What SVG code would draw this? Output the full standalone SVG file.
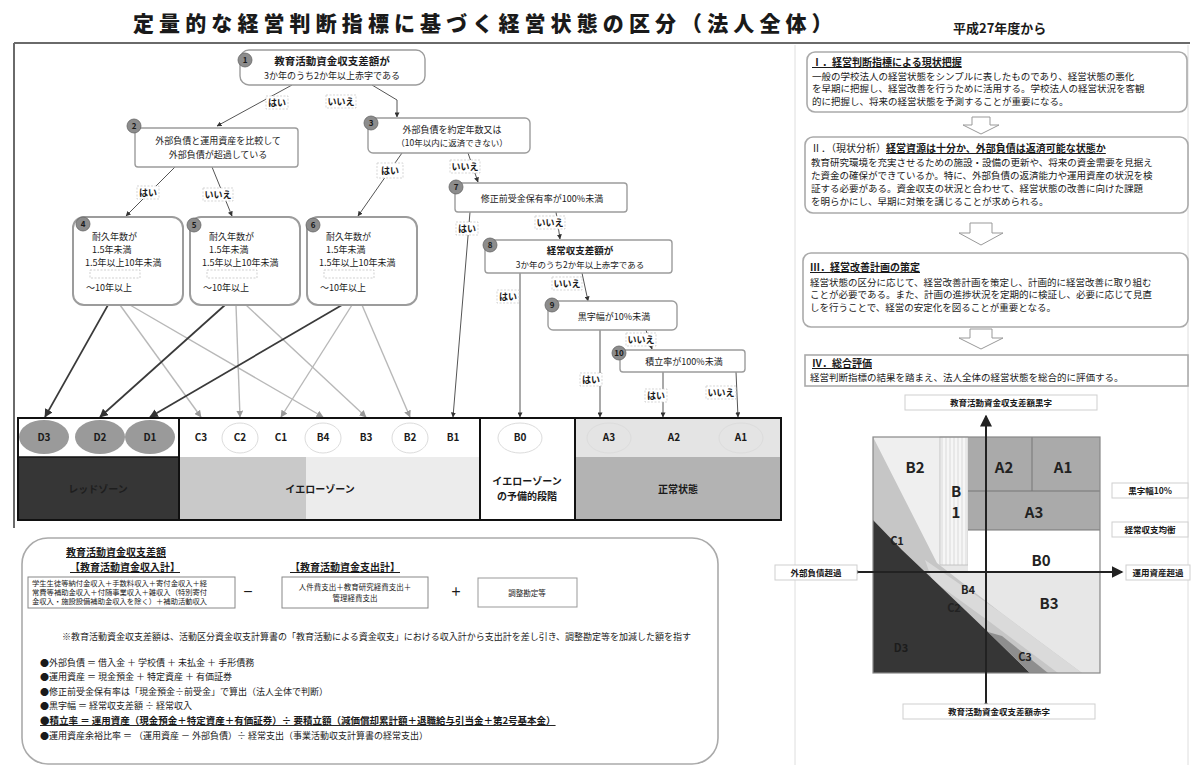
<svg xmlns="http://www.w3.org/2000/svg" width="1192" height="769" viewBox="0 0 1192 769">
<defs>
<style>
text{font-family:"Noto Sans CJK JP","Noto Sans",sans-serif;fill:#1a1a1a}
.b{font-weight:700}
.u{text-decoration:underline}
.box{fill:#fff;stroke:#9c9c9c;stroke-width:1.4}
.rbox{fill:#fff;stroke:#9c9c9c;stroke-width:2}
.pbox{fill:#fff;stroke:#aaa;stroke-width:1.6}
.num{fill:#8c8c8c;stroke:#666;stroke-width:.8}
.numt{font-size:8px;font-weight:700;text-anchor:middle}
.lbl{font-size:9px;font-weight:700;text-anchor:middle}
.lblbg{fill:#fff;stroke:#c4c4c4;stroke-width:.7;stroke-dasharray:2 1.5}
.dk{stroke:#3a3a3a;stroke-width:1.7;fill:none}
.gy{stroke:#b8b8b8;stroke-width:1.4;fill:none}
.ln{stroke:#555;stroke-width:1;fill:none}
.c{text-anchor:middle}
.t9{font-size:9px}
.t95{font-size:9.5px}
.bt{font-size:10px;font-weight:700;text-anchor:middle}
.zone{font-size:10px;font-weight:700;text-anchor:middle}
.faint{fill:none;stroke:#dcdcdc;stroke-width:1}
.chl{font-size:15px;font-weight:700;text-anchor:middle;fill:#222}
.chs{font-size:11px;font-weight:700;text-anchor:middle;fill:#222}
.axl{font-size:8.5px;font-weight:700;text-anchor:middle}
.axb{fill:#fff;stroke:#cfcfcf;stroke-width:1}
.blk{fill:#fff;stroke:#999;stroke-width:1}
</style>
<marker id="ah" viewBox="0 0 6 6" refX="5.5" refY="3" markerWidth="5" markerHeight="5" orient="auto"><path d="M0,0 L6,3 L0,6 z" fill="#333"/></marker>
<marker id="ahg" viewBox="0 0 6 6" refX="5.5" refY="3" markerWidth="5" markerHeight="5" orient="auto"><path d="M0,0 L6,3 L0,6 z" fill="#999"/></marker>
<marker id="axa" viewBox="0 0 8 8" refX="7" refY="4" markerWidth="6" markerHeight="6" orient="auto"><path d="M0,0 L8,4 L0,8 z" fill="#222"/></marker>
<pattern id="vstripe" width="4" height="10" patternUnits="userSpaceOnUse"><rect width="4" height="10" fill="#f6f6f6"/><line x1="2" y1="0" x2="2" y2="10" stroke="#d2d2d2" stroke-width="0.8"/></pattern>
</defs>

<rect width="1192" height="769" fill="#fff"/>

<!-- title -->
<g id="title">
<text x="133" y="31" font-size="21" font-weight="900" letter-spacing="5.1">定量的な経営判断指標に基づく経営状態の区分（法人全体）</text>
<text x="953" y="33" font-size="13" font-weight="700">平成27年度から</text>
</g>

<!-- frame -->
<g id="frame">
<line x1="14" y1="43" x2="1190" y2="43" stroke="#6a6a6a" stroke-width="2"/>
<line x1="14" y1="43" x2="14" y2="528" stroke="#6a6a6a" stroke-width="2"/>
<line x1="795" y1="45" x2="795" y2="765" stroke="#dedede" stroke-width="1"/>
<line x1="1188" y1="45" x2="1188" y2="765" stroke="#dedede" stroke-width="1"/>
</g>

<!-- connectors -->
<g id="connectors">
<line class="ln" x1="292" y1="85" x2="217" y2="126" marker-end="url(#ah)"/>
<polyline class="ln" points="372,85 397,100 397,117" marker-end="url(#ah)"/>
<line class="ln" x1="175" y1="167" x2="126" y2="216" marker-end="url(#ah)"/>
<line class="ln" x1="212" y1="167" x2="232" y2="216" marker-end="url(#ah)"/>
<line class="ln" x1="402" y1="153" x2="358" y2="216" marker-end="url(#ah)"/>
<line class="ln" x1="468" y1="153" x2="478" y2="182" marker-end="url(#ah)"/>
<line class="ln" x1="470" y1="212" x2="453" y2="417" marker-end="url(#ah)"/>
<line class="ln" x1="556" y1="212" x2="560" y2="239" marker-end="url(#ah)"/>
<line class="ln" x1="520" y1="273" x2="520" y2="417" marker-end="url(#ah)"/>
<line class="ln" x1="582" y1="273" x2="588" y2="301" marker-end="url(#ah)"/>
<line class="ln" x1="600" y1="330" x2="600" y2="417" marker-end="url(#ah)"/>
<line class="ln" x1="646" y1="330" x2="652" y2="349" marker-end="url(#ah)"/>
<line class="ln" x1="663" y1="372" x2="663" y2="417" marker-end="url(#ah)"/>
<line class="ln" x1="736" y1="372" x2="738" y2="417" marker-end="url(#ah)"/>
<!-- from boxes 4,5,6 -->
<line class="gy" x1="120" y1="305" x2="201" y2="417" marker-end="url(#ahg)"/>
<line class="gy" x1="130" y1="305" x2="323" y2="417" marker-end="url(#ahg)"/>
<line class="gy" x1="236" y1="305" x2="240" y2="417" marker-end="url(#ahg)"/>
<line class="gy" x1="246" y1="305" x2="366" y2="417" marker-end="url(#ahg)"/>
<line class="gy" x1="352" y1="305" x2="281" y2="417" marker-end="url(#ahg)"/>
<line class="gy" x1="362" y1="305" x2="410" y2="417" marker-end="url(#ahg)"/>
<line class="dk" x1="108" y1="305" x2="45" y2="417" marker-end="url(#ah)"/>
<line class="dk" x1="225" y1="305" x2="100" y2="417" marker-end="url(#ah)"/>
<line class="dk" x1="342" y1="305" x2="150" y2="417" marker-end="url(#ah)"/>
</g>

<!-- connector labels -->
<g id="labels">
<rect class="lblbg" x="266" y="96" width="22" height="13"/><text class="lbl" x="277" y="106">はい</text>
<rect class="lblbg" x="326" y="95" width="30" height="13"/><text class="lbl" x="341" y="105">いいえ</text>
<rect class="lblbg" x="137" y="186" width="22" height="13"/><text class="lbl" x="148" y="196">はい</text>
<rect class="lblbg" x="203" y="188" width="30" height="13"/><text class="lbl" x="218" y="198">いいえ</text>
<rect class="lblbg" x="377" y="163" width="26" height="15"/><text class="lbl" x="390" y="174">はい</text>
<rect class="lblbg" x="450" y="160" width="30" height="13"/><text class="lbl" x="465" y="170">いいえ</text>
<rect class="lblbg" x="456" y="222" width="22" height="13"/><text class="lbl" x="467" y="232">はい</text>
<rect class="lblbg" x="535" y="216" width="30" height="13"/><text class="lbl" x="550" y="226">いいえ</text>
<rect class="lblbg" x="497" y="290" width="22" height="13"/><text class="lbl" x="508" y="300">はい</text>
<rect class="lblbg" x="552" y="277" width="30" height="13"/><text class="lbl" x="567" y="287">いいえ</text>
<rect class="lblbg" x="580" y="373" width="22" height="13"/><text class="lbl" x="591" y="383">はい</text>
<rect class="lblbg" x="626" y="333" width="30" height="13"/><text class="lbl" x="641" y="343">いいえ</text>
<rect class="lblbg" x="645" y="389" width="22" height="13"/><text class="lbl" x="656" y="399">はい</text>
<rect class="lblbg" x="706" y="386" width="30" height="13"/><text class="lbl" x="721" y="396">いいえ</text>
</g>

<!-- flow nodes -->
<g id="n1">
<rect class="box" x="240" y="50" width="185" height="35" rx="9"/>
<circle class="num" cx="245" cy="60" r="7"/><text class="numt" x="245" y="63">1</text>
<text class="c b" x="332" y="65" font-size="10.5">教育活動資金収支差額が</text>
<text class="c" x="332" y="79" font-size="9">3か年のうち2か年以上赤字である</text>
</g>
<g id="n2">
<rect class="box" x="135" y="128" width="163" height="39" rx="3"/>
<circle class="num" cx="134" cy="126" r="7"/><text class="numt" x="134" y="129">2</text>
<text class="c t9" x="218" y="144">外部負債と運用資産を比較して</text>
<text class="c t9" x="218" y="158">外部負債が超過している</text>
</g>
<g id="n3">
<rect class="box" x="368" y="118" width="162" height="35" rx="5"/>
<circle class="num" cx="371" cy="123" r="7"/><text class="numt" x="371" y="126">3</text>
<text class="c t9" x="452" y="133">外部負債を約定年数又は</text>
<text class="c" x="452" y="146" font-size="8.5">（10年以内に返済できない）</text>
</g>
<g id="n4">
<rect class="rbox" x="73" y="217" width="110" height="88" rx="11"/>
<circle class="num" cx="83" cy="224" r="7"/><text class="numt" x="83" y="227">4</text>
<text class="t9" x="92" y="240">耐久年数が</text>
<text class="t9" x="92" y="253">1.5年未満</text>
<text class="t9" x="85" y="266">1.5年以上10年未満</text>
<rect x="90" y="270" width="50" height="8" fill="none" stroke="#bbb" stroke-width=".7" stroke-dasharray="2 1.5"/>
<text class="t9" x="86" y="291">～10年以上</text>
</g>
<g id="n5">
<rect class="rbox" x="190" y="217" width="110" height="88" rx="11"/>
<circle class="num" cx="194" cy="225" r="7"/><text class="numt" x="194" y="228">5</text>
<text class="t9" x="209" y="240">耐久年数が</text>
<text class="t9" x="209" y="253">1.5年未満</text>
<text class="t9" x="202" y="266">1.5年以上10年未満</text>
<rect x="207" y="270" width="50" height="8" fill="none" stroke="#bbb" stroke-width=".7" stroke-dasharray="2 1.5"/>
<text class="t9" x="203" y="291">～10年以上</text>
</g>
<g id="n6">
<rect class="rbox" x="307" y="217" width="110" height="88" rx="11"/>
<circle class="num" cx="313" cy="225" r="7"/><text class="numt" x="313" y="228">6</text>
<text class="t9" x="326" y="240">耐久年数が</text>
<text class="t9" x="326" y="253">1.5年未満</text>
<text class="t9" x="319" y="266">1.5年以上10年未満</text>
<rect x="324" y="270" width="50" height="8" fill="none" stroke="#bbb" stroke-width=".7" stroke-dasharray="2 1.5"/>
<text class="t9" x="320" y="291">～10年以上</text>
</g>
<g id="n7">
<rect class="box" x="455" y="183" width="172" height="29" rx="3"/>
<circle class="num" cx="456" cy="187" r="7"/><text class="numt" x="456" y="190">7</text>
<text class="c t9" x="542" y="202">修正前受金保有率が100%未満</text>
</g>
<g id="n8">
<rect class="box" x="485" y="240" width="187" height="33" rx="3"/>
<circle class="num" cx="490" cy="245" r="7"/><text class="numt" x="490" y="248">8</text>
<text class="c b" x="580" y="254" font-size="9.5">経常収支差額が</text>
<text class="c" x="580" y="268" font-size="8.5">3か年のうち2か年以上赤字である</text>
</g>
<g id="n9">
<rect class="box" x="548" y="301" width="129" height="29" rx="5"/>
<circle class="num" cx="552" cy="305" r="7"/><text class="numt" x="552" y="308">9</text>
<text class="c t9" x="614" y="320">黒字幅が10%未満</text>
</g>
<g id="n10">
<rect class="box" x="620" y="350" width="125" height="22" rx="3"/>
<circle class="num" cx="619" cy="353" r="7"/><text class="numt" x="619" y="356">10</text>
<text class="c t9" x="684" y="365">積立率が100%未満</text>
</g>

<!-- classification band -->
<g id="band">
<rect x="18" y="418" width="763" height="102" fill="#fff"/>
<rect x="179" y="418" width="301" height="39" fill="#fff"/>
<rect x="575" y="418" width="206" height="39" fill="#e4e4e4"/>
<rect x="18" y="457" width="161" height="63" fill="#363636"/>
<rect x="179" y="457" width="127" height="63" fill="#c9c9c9"/>
<rect x="306" y="457" width="174" height="63" fill="#ececec"/>
<rect x="480" y="457" width="95" height="63" fill="#fff"/>
<rect x="575" y="457" width="206" height="63" fill="#b3b3b3"/>
<ellipse cx="44" cy="437" rx="25" ry="17" fill="#9a9a9a"/>
<ellipse cx="100" cy="437" rx="25" ry="17" fill="#9a9a9a"/>
<ellipse cx="150" cy="437" rx="25" ry="17" fill="#9a9a9a"/>
<ellipse class="faint" cx="240" cy="438" rx="18" ry="15"/>
<ellipse class="faint" cx="323" cy="438" rx="18" ry="15"/>
<ellipse class="faint" cx="410" cy="438" rx="18" ry="15"/>
<ellipse class="faint" cx="520" cy="438" rx="22" ry="15"/>
<ellipse class="faint" cx="609" cy="438" rx="22" ry="15"/>
<ellipse class="faint" cx="741" cy="438" rx="22" ry="15"/>
<line x1="18" y1="457" x2="179" y2="457" stroke="#111" stroke-width="1.5"/>
<line x1="179" y1="418" x2="179" y2="520" stroke="#111" stroke-width="2"/>
<line x1="480" y1="418" x2="480" y2="520" stroke="#111" stroke-width="2"/>
<line x1="575" y1="418" x2="575" y2="520" stroke="#111" stroke-width="2"/>
<rect x="18" y="418" width="763" height="102" fill="none" stroke="#111" stroke-width="2"/>
<text class="zone" x="44" y="441">D3</text>
<text class="zone" x="100" y="441">D2</text>
<text class="zone" x="150" y="441">D1</text>
<text class="zone" x="201" y="441">C3</text>
<text class="zone" x="240" y="441">C2</text>
<text class="zone" x="281" y="441">C1</text>
<text class="zone" x="323" y="441">B4</text>
<text class="zone" x="366" y="441">B3</text>
<text class="zone" x="410" y="441">B2</text>
<text class="zone" x="453" y="441">B1</text>
<text class="zone" x="520" y="441">B0</text>
<text class="zone" x="609" y="441">A3</text>
<text class="zone" x="674" y="441">A2</text>
<text class="zone" x="741" y="441">A1</text>
<text class="zone" x="98" y="493" style="fill:#1e1e1e">レッドゾーン</text>
<text class="zone" x="320" y="493">イエローゾーン</text>
<text class="zone" x="527" y="485">イエローゾーン</text>
<text class="zone" x="527" y="500">の予備的段階</text>
<text class="zone" x="678" y="493">正常状態</text>
</g>

<!-- formula box -->
<g id="formula">
<rect class="pbox" x="22" y="538" width="696" height="226" rx="26"/>
<text class="b u" x="66" y="556" font-size="10">教育活動資金収支差額</text>
<text class="b u" x="70" y="571" font-size="10">【教育活動資金収入計】</text>
<rect x="28" y="577" width="207" height="31" fill="#fff" stroke="#888" stroke-width="1"/>
<text x="32" y="586" font-size="7.3">学生生徒等納付金収入＋手数料収入＋寄付金収入＋経</text>
<text x="32" y="595" font-size="7.3">常費等補助金収入＋付随事業収入＋雑収入（特別寄付</text>
<text x="32" y="604" font-size="7.3">金収入・施設設備補助金収入を除く）＋補助活動収入</text>
<text x="248" y="596" font-size="11" font-weight="700" class="c">－</text>
<text class="b u c" x="345" y="571" font-size="10">【教育活動資金支出計】</text>
<rect x="282" y="577" width="146" height="31" fill="#fff" stroke="#888" stroke-width="1"/>
<text class="c" x="355" y="590" font-size="7.5">人件費支出＋教育研究経費支出＋</text>
<text class="c" x="355" y="601" font-size="7.5">管理経費支出</text>
<text x="456" y="596" font-size="11" font-weight="700" class="c">＋</text>
<rect x="478" y="578" width="99" height="29" fill="#fff" stroke="#999" stroke-width="1"/>
<text class="c" x="527" y="596" font-size="7.5">調整勘定等</text>
<text x="62" y="640" font-size="9">※教育活動資金収支差額は、活動区分資金収支計算書の「教育活動による資金収支」における収入計から支出計を差し引き、調整勘定等を加減した額を指す</text>
<text x="40" y="666" font-size="9">●外部負債 ＝ 借入金 ＋ 学校債 ＋ 未払金 ＋ 手形債務</text>
<text x="40" y="680" font-size="9">●運用資産 ＝ 現金預金 ＋ 特定資産 ＋ 有価証券</text>
<text x="40" y="695" font-size="9">●修正前受金保有率は「現金預金÷前受金」で算出（法人全体で判断）</text>
<text x="40" y="709" font-size="9">●黒字幅 ＝ 経常収支差額 ÷ 経常収入</text>
<text class="b u" x="40" y="724" font-size="9.5">●積立率 ＝ 運用資産（現金預金＋特定資産＋有価証券）÷ 要積立額（減価償却累計額＋退職給与引当金＋第2号基本金）</text>
<text x="40" y="739" font-size="9">●運用資産余裕比率 ＝ （運用資産 － 外部負債）÷ 経常支出（事業活動収支計算書の経常支出）</text>
</g>

<!-- right panel -->
<g id="r1">
<rect class="pbox" x="807" y="52" width="380" height="60" rx="8"/>
<text class="b u" x="812" y="66" font-size="10">Ⅰ．経営判断指標による現状把握</text>
<text x="812" y="80" font-size="9.5">一般の学校法人の経営状態をシンプルに表したものであり、経営状態の悪化</text>
<text x="812" y="92" font-size="9.5">を早期に把握し、経営改善を行うために活用する。学校法人の経営状況を客観</text>
<text x="812" y="105" font-size="9.5">的に把握し、将来の経営状態を予測することが重要になる。</text>
</g>
<path class="blk" d="M972,117 H990 V125 H999 L981,134 L963,125 H972 Z"/>
<g id="r2">
<rect class="pbox" x="805" y="137" width="383" height="76" rx="8"/>
<text x="811" y="152" font-size="10">Ⅱ．（現状分析）<tspan font-weight="700" text-decoration="underline">経営資源は十分か、外部負債は返済可能な状態か</tspan></text>
<text x="811" y="166" font-size="9.5">教育研究環境を充実させるための施設・設備の更新や、将来の資金需要を見据え</text>
<text x="811" y="179" font-size="9.5">た資金の確保ができているか。特に、外部負債の返済能力や運用資産の状況を検</text>
<text x="811" y="192" font-size="9.5">証する必要がある。資金収支の状況と合わせて、経営状態の改善に向けた課題</text>
<text x="811" y="205" font-size="9.5">を明らかにし、早期に対策を講じることが求められる。</text>
</g>
<path class="blk" d="M970,223 H992 V233 H1003 L981,245 L959,233 H970 Z"/>
<g id="r3">
<rect class="pbox" x="803" y="253" width="385" height="74" rx="8"/>
<text class="b u" x="810" y="271" font-size="10">Ⅲ．経営改善計画の策定</text>
<text x="810" y="286" font-size="9.5">経営状態の区分に応じて、経営改善計画を策定し、計画的に経営改善に取り組む</text>
<text x="810" y="298" font-size="9.5">ことが必要である。また、計画の進捗状況を定期的に検証し、必要に応じて見直</text>
<text x="810" y="311" font-size="9.5">しを行うことで、経営の安定化を図ることが重要となる。</text>
</g>
<path class="blk" d="M970,329 H992 V338 H1003 L981,349 L959,338 H970 Z"/>
<g id="r4">
<rect x="805" y="355" width="383" height="31" fill="#fff" stroke="#aaa" stroke-width="1.6"/>
<text class="b u" x="812" y="367" font-size="10">Ⅳ．総合評価</text>
<text x="810" y="381" font-size="9.5">経営判断指標の結果を踏まえ、法人全体の経営状態を総合的に評価する。</text>
</g>

<!-- quadrant chart -->
<g id="chart">
<rect x="873" y="437" width="227" height="236" fill="#e7e7e7"/>
<rect x="873" y="437" width="67" height="128" fill="#efefef"/>
<polygon points="873,437 937,563 1000,612 1082,673 873,673" fill="#c6c6c6"/>
<polygon points="925,560 1000,612 1082,673 1058,673 990,622 932,580" fill="#dadada"/>
<polygon points="873,520 902,550 942,588 988,632 1030,673 873,673" fill="#363636"/>
<polygon points="988,632 1030,673 1048,673 1002,636" fill="#8e8e8e"/>
<rect x="940" y="437" width="28" height="128" fill="url(#vstripe)" stroke="#bbb" stroke-width=".8"/>
<rect x="968" y="437" width="132" height="93" fill="#aaaaaa"/>
<line x1="968" y1="491" x2="1100" y2="491" stroke="#777" stroke-width="1"/>
<line x1="1032" y1="437" x2="1032" y2="491" stroke="#777" stroke-width="1"/>
<rect x="968" y="530" width="132" height="42" fill="#fff"/>
<line x1="968" y1="530" x2="1100" y2="530" stroke="#777" stroke-width="1"/>
<rect x="873" y="437" width="227" height="236" fill="none" stroke="#888" stroke-width="1.2"/>
<line x1="986" y1="702" x2="986" y2="416" stroke="#222" stroke-width="2" marker-end="url(#axa)" marker-start="url(#axa)"/>
<line x1="859" y1="572" x2="1122" y2="572" stroke="#222" stroke-width="2" marker-end="url(#axa)" marker-start="url(#axa)"/>
<text class="chl" x="915" y="473">B2</text>
<text class="chl" x="956" y="497">B</text>
<text class="chl" x="956" y="518">1</text>
<text class="chl" x="1004" y="473">A2</text>
<text class="chl" x="1063" y="473">A1</text>
<text class="chl" x="1034" y="518">A3</text>
<text class="chl" x="1041" y="566">B0</text>
<text class="chl" x="1049" y="609">B3</text>
<text class="chs" x="897" y="545">C1</text>
<text class="chs" x="968" y="594">B4</text>
<text class="chs" x="954" y="612">C2</text>
<text class="chs" x="901" y="652" style="fill:#1c1c1c">D3</text>
<text class="chs" x="1025" y="661">C3</text>
<rect class="axb" x="905" y="395" width="192" height="15"/>
<text class="axl" x="1001" y="406">教育活動資金収支差額黒字</text>
<rect class="axb" x="903" y="704" width="192" height="15"/>
<text class="axl" x="999" y="715">教育活動資金収支差額赤字</text>
<rect class="axb" x="775" y="565" width="82" height="15"/>
<text class="axl" x="816" y="576">外部負債超過</text>
<rect class="axb" x="1126" y="565" width="64" height="15"/>
<text class="axl" x="1158" y="576">運用資産超過</text>
<rect class="axb" x="1112" y="483" width="76" height="15"/>
<text class="axl" x="1150" y="494">黒字幅10%</text>
<rect class="axb" x="1112" y="522" width="76" height="15"/>
<text class="axl" x="1150" y="533">経常収支均衡</text>
</g>
</svg>
